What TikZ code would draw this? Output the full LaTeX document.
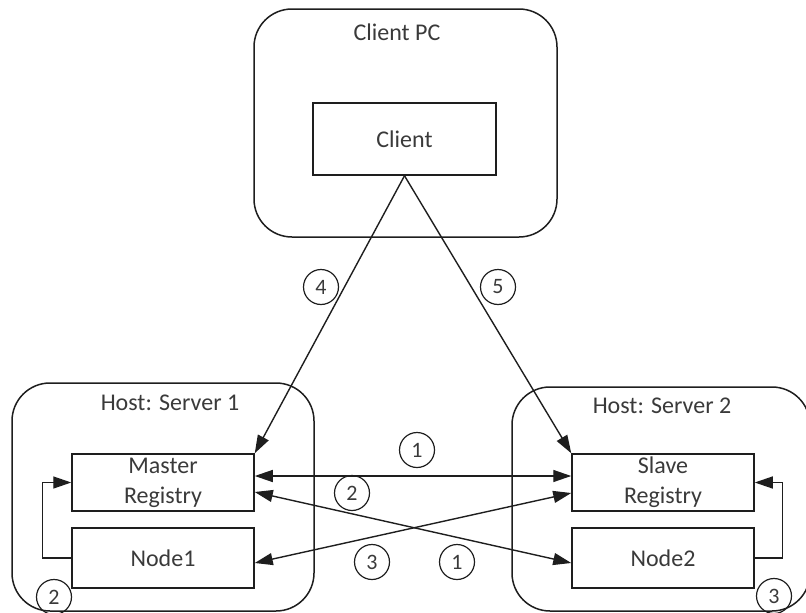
\documentclass[tikz,border=0pt]{standalone}
\usepackage{fontspec}
\setmainfont{Carlito}
\usetikzlibrary{arrows.meta}
\definecolor{txt}{HTML}{3A3A3A}
\definecolor{ln}{HTML}{1E1E1E}
\begin{document}
\begin{tikzpicture}[x=1pt,y=-1pt,
  every node/.style={text=txt, font=\fontsize{24}{30}\selectfont},
  container/.style={draw=ln, rounded corners=38pt, line width=1.5pt, inner sep=0pt},
  boxnode/.style={draw=ln, line width=1.5pt, inner sep=0pt, align=center},
  title/.style={anchor=base, inner sep=0pt},
  num/.style={draw=ln, circle, line width=1.2pt, minimum size=35pt, inner sep=0pt, font=\fontsize{22}{24}\selectfont},
  tip/.tip={Triangle[length=18pt,width=12pt]},
  arr/.style={draw=ln, line width=1.4pt, -tip},
  darr/.style={draw=ln, line width=1.4pt, tip-tip}]
\clip (0,0) rectangle (806,613);

% containers
\node[container, minimum width=303pt, minimum height=228pt] (pc) at (405.5,123) {};
\node[container, minimum width=302pt, minimum height=228pt] (s1) at (163,497) {};
\node[container, minimum width=298pt, minimum height=224pt] (s2) at (661,499) {};

% titles
\node[title] (tpc) at (397,40) {Client PC};
\node[title] (ts1) at (170,410) {Host: Server 1};
\node[title] (ts2) at (662,413) {Host: Server 2};

% inner boxes
\node[boxnode, minimum width=183pt, minimum height=72pt] (client) at (404.5,139) {Client};
\node[boxnode, minimum width=182pt, minimum height=57pt] (master) at (163,482.5) {Master\\Registry};
\node[boxnode, minimum width=182pt, minimum height=60pt] (node1) at (163,558) {Node1};
\node[boxnode, minimum width=182pt, minimum height=57pt] (slave) at (663,482.5) {Slave\\Registry};
\node[boxnode, minimum width=182pt, minimum height=60pt] (node2) at (663,558) {Node2};

% connectors
\draw[arr] (client.south) -- (master.north east);
\draw[arr] (client.south) -- (slave.north west);
\draw[darr] ([yshift=6.5pt]master.east) -- ([yshift=6.5pt]slave.west);
\draw[darr] ([yshift=-9.5pt]master.east) -- ([yshift=-5pt]node2.west);
\draw[darr] ([yshift=-10.5pt]slave.west) -- ([yshift=-5pt]node1.east);
\draw[arr] (node1.west) -- ++(-29pt,0) |- (master.west);
\draw[arr] (node2.east) -- ++(28pt,0) |- (slave.east);

% step numbers
\node[num] (n4) at (321,287) {4};
\node[num] (n5) at (498,287) {5};
\node[num] (n1a) at (417,450) {1};
\node[num] (n2a) at (352,493) {2};
\node[num] (n3a) at (372,562) {3};
\node[num] (n1b) at (457,562) {1};
\node[num] (n2b) at (54,597) {2};
\node[num] (n3b) at (774,596) {3};
\end{tikzpicture}
\end{document}
